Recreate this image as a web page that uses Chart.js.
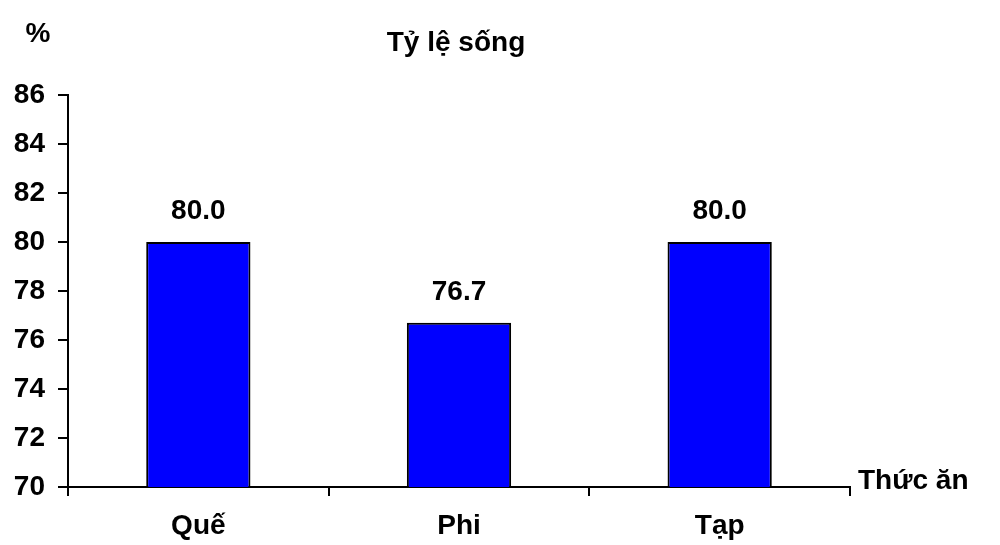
<!DOCTYPE html>
<html>
<head>
<meta charset="utf-8">
<script src="https://cdn.jsdelivr.net/npm/chart.js@4.4.1/dist/chart.umd.min.js"></script>
<style>
html,body{margin:0;padding:0;background:#fff;}
#wrap{width:1000px;height:545px;position:relative;}
</style>
</head>
<body>
<div id="wrap"><canvas id="c" width="1000" height="545"></canvas></div>
<script>
const categories = ['Quế', 'Phi', 'Tạp'];
const survivalRate = [80.0, 76.7, 80.0];
const yTicks = [70, 72, 74, 76, 78, 80, 82, 84, 86];
const chartTitle = 'Tỷ lệ sống';
const yUnit = '%';
const xAxisTitle = 'Thức ăn';

const FONT = '"Liberation Sans", Arial, sans-serif';
const FS = 28;

const textPlugin = {
  id: 'texts',
  afterDatasetsDraw(chart) {
    const ctx = chart.ctx;
    ctx.save();
    ctx.fillStyle = '#000';
    ctx.font = 'bold ' + FS + 'px ' + FONT;
    ctx.textBaseline = 'middle';
    ctx.textAlign = 'center';
    const meta = chart.getDatasetMeta(0);
    meta.data.forEach((bar, i) => {
      ctx.fillText(survivalRate[i].toFixed(1), bar.x, bar.y - 31);
    });
    ctx.fillText(chartTitle, 456, 43);
    ctx.fillText(yUnit, 38, 34);
    ctx.textAlign = 'left';
    ctx.fillText(xAxisTitle, 858, 481);
    ctx.restore();
  }
};

new Chart(document.getElementById('c'), {
  type: 'bar',
  data: {
    labels: categories,
    datasets: [{
      data: survivalRate,
      backgroundColor: '#0000FF',
      borderColor: '#000',
      borderWidth: 2,
      borderSkipped: false,
      barPercentage: 0.4,
      categoryPercentage: 1.0
    }]
  },
  options: {
    responsive: false,
    animation: false,
    devicePixelRatio: 1,
    layout: { padding: { top: 95, right: 150, left: 0, bottom: 0 } },
    plugins: { legend: { display: false }, tooltip: { enabled: false }, title: { display: false } },
    scales: {
      y: {
        min: 70, max: 86,
        afterBuildTicks(scale) { scale.ticks = yTicks.map(v => ({ value: v })); },
        afterFit(scale) { scale.width = 68; },
        border: { color: '#000', width: 2 },
        grid: { drawOnChartArea: false, tickLength: 10, color: '#000', lineWidth: 2 },
        ticks: { color: '#000', padding: 13, font: { family: FONT, size: FS, weight: 'bold' } }
      },
      x: {
        afterFit(scale) { scale.height = 58; },
        border: { color: '#000', width: 2 },
        grid: { drawOnChartArea: false, tickLength: 9, color: '#000', lineWidth: 2, offset: true },
        ticks: { color: '#000', padding: 13, font: { family: FONT, size: FS, weight: 'bold' } }
      }
    }
  },
  plugins: [textPlugin]
});
</script>
</body>
</html>
